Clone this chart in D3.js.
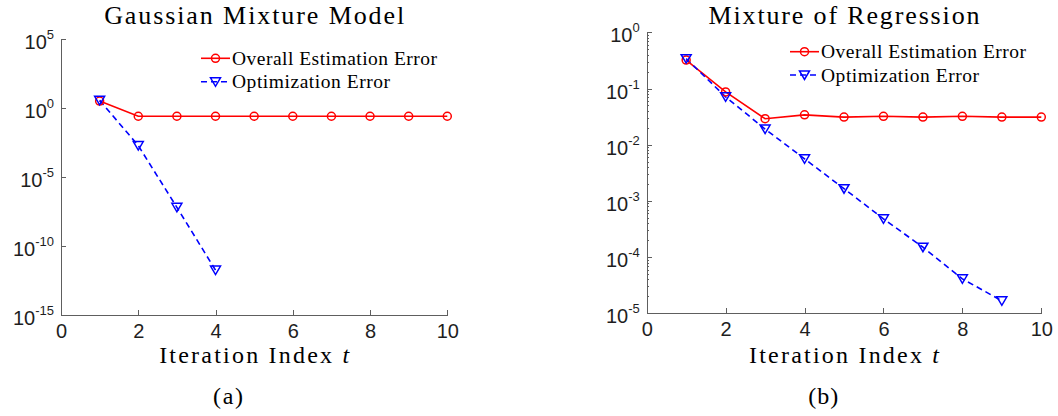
<!DOCTYPE html>
<html>
<head>
<meta charset="utf-8">
<script src="https://cdn.jsdelivr.net/npm/d3@7"></script>
<style>
    body { margin: 0; background: #fff; }
    .axis path, .axis line { stroke: #5e5e5e; stroke-width: 1; shape-rendering: crispEdges; }
    .axis text { fill: #1e1e1e; font-family: "Liberation Sans", Arial, sans-serif; }
    .serif { font-family: "Liberation Serif", "Times New Roman", serif; fill: #000; }
</style>
</head>
<body>
<div id="chart"></div>
<script>
// iteration index (shared)
let iterations = [1, 2, 3, 4, 5, 6, 7, 8, 9, 10];

// (a) gaussian mixture model
let gmmOverall = [3.0, 0.24, 0.24, 0.24, 0.24, 0.24, 0.24, 0.24, 0.24, 0.24];
let gmmOptIters = [1, 2, 3, 4];
let gmmOpt = [3.4, 1.8e-3, 6e-8, 1.7e-12];
let gmmYTicks = [1e5, 1e0, 1e-5, 1e-10, 1e-15];

// (b) mixture of regression
let mrOverall = [0.32, 0.087, 0.029, 0.034, 0.031, 0.032, 0.031, 0.032, 0.031, 0.031];
let mrOptIters = [1, 2, 3, 4, 5, 6, 7, 8, 9];
let mrOpt = [0.34, 0.071, 0.019, 0.0056, 0.00165, 4.8e-4, 1.5e-4, 4.1e-5, 1.67e-5];
let mrYTicks = [1e0, 1e-1, 1e-2, 1e-3, 1e-4, 1e-5];

let xTicks = [0, 2, 4, 6, 8, 10];
let legendLabels = ["Overall Estimation Error", "Optimization Error"];

const RED = "#ff0000", BLUE = "#0000ff";

let svg = d3.select("#chart").append("svg")
    .attr("width", 1058)
    .attr("height", 416);

function DrawCircle(g, x, y) {
    g.append("circle").attr("cx", x).attr("cy", y).attr("r", 4)
        .style("fill", "none").style("stroke", RED).style("stroke-width", 1.5);
}

function DrawTriangle(g, x, y) {
    g.append("path").attr("d", "M" + (x - 5) + "," + (y - 4) + "L" + (x + 5) + "," + (y - 4) + "L" + x + "," + (y + 4.5) + "Z")
        .style("fill", "none").style("stroke", BLUE).style("stroke-width", 1.5);
}

function SerifText(x, y, size, len, anchor) {
    return svg.append("text").attr("class", "serif")
        .attr("x", x).attr("y", y)
        .attr("text-anchor", anchor).style("font-size", size + "px")
        .attr("textLength", len).attr("lengthAdjust", "spacing");
}

function DrawPanel(p) {
    let x = d3.scaleLinear().domain([0, 10]).range([p.left, p.right]);
    let y = d3.scaleLog().domain(p.yDomain).range([p.bottom, p.top]);

    //x axis, ticks pointing in
    svg.append("g").attr("class", "axis")
        .attr("transform", "translate(0," + p.bottom + ")")
        .call(d3.axisBottom(x).tickValues(xTicks).tickSize(-5).tickSizeOuter(0).tickPadding(9).tickFormat(d3.format("d")))
        .selectAll("text").style("font-size", "20px");

    //minor log ticks
    if (p.minor) {
        let minors = [];
        let lo = Math.log10(p.yDomain[0]), hi = Math.log10(p.yDomain[1]);
        for (let e = lo; e < hi; ++e)
            for (let k = 2; k < 10; ++k) minors.push(k * Math.pow(10, e));
        svg.append("g").attr("class", "axis")
            .attr("transform", "translate(" + p.left + ",0)")
            .call(d3.axisLeft(y).tickValues(minors).tickSize(-2.5).tickSizeOuter(0).tickFormat(""))
            .select(".domain").remove();
    }

    //y axis with 10^n labels
    let yAxis = svg.append("g").attr("class", "axis")
        .attr("transform", "translate(" + p.left + ",0)")
        .call(d3.axisLeft(y).tickValues(p.yTicks).tickSize(-5).tickSizeOuter(0).tickPadding(7).tickFormat(""));
    yAxis.selectAll(".tick text").each(function (d) {
        let t = d3.select(this).attr("dy", null).attr("y", 9.5).attr("text-anchor", "end");
        t.append("tspan").style("font-size", "20px").text("10");
        t.append("tspan").style("font-size", "13px").attr("dy", -10).text(Math.round(Math.log10(d)));
    });

    //title
    SerifText((p.left + p.right) / 2, p.titleY, 26, p.titleLen, "middle").text(p.title);

    //x label
    let xl = SerifText((p.left + p.right) / 2, 363, 24, 190, "middle");
    xl.append("tspan").text("Iteration Index ");
    xl.append("tspan").style("font-style", "italic").text("t");

    //caption
    SerifText(p.captionX, 404, 24, 30, "middle").text(p.caption);

    //series
    let overall = p.overall.map((v, i) => [iterations[i], v]);
    let opt = p.opt.map((v, i) => [p.optIters[i], v]);
    let line = d3.line().x(d => x(d[0])).y(d => y(d[1]));

    svg.append("path").datum(overall).attr("d", line)
        .style("fill", "none").style("stroke", RED).style("stroke-width", 1.6);
    svg.append("path").datum(opt).attr("d", line)
        .style("fill", "none").style("stroke", BLUE).style("stroke-width", 1.6)
        .style("stroke-dasharray", "6,4");

    let mk = svg.append("g");
    overall.forEach(d => DrawCircle(mk, x(d[0]), y(d[1])));
    opt.forEach(d => DrawTriangle(mk, x(d[0]), y(d[1])));

    //legend
    let lg = svg.append("g");
    let rows = [p.legendY, p.legendY + p.legendGap];
    lg.append("line").attr("x1", p.legendX).attr("x2", p.legendX + 29).attr("y1", rows[0]).attr("y2", rows[0])
        .style("stroke", RED).style("stroke-width", 1.6);
    DrawCircle(lg, p.legendX + 14.5, rows[0]);
    lg.append("line").attr("x1", p.legendX).attr("x2", p.legendX + 29).attr("y1", rows[1]).attr("y2", rows[1])
        .style("stroke", BLUE).style("stroke-width", 1.6).style("stroke-dasharray", "6,4");
    DrawTriangle(lg, p.legendX + 14.5, rows[1]);
    let lens = [205, 158];
    for (let i = 0; i < legendLabels.length; ++i) {
        SerifText(p.legendX + 31, rows[i] + 6.5, 19.5, lens[i], "start").text(legendLabels[i]);
    }
}

DrawPanel({
    left: 61, right: 447.3, top: 38.7, bottom: 314.7,
    yDomain: [1e-15, 1e5], yTicks: gmmYTicks, minor: false,
    overall: gmmOverall, opt: gmmOpt, optIters: gmmOptIters,
    title: "Gaussian Mixture Model", titleY: 23.5, titleLen: 300,
    caption: "(a)", captionX: 228,
    legendX: 201, legendY: 58.3, legendGap: 23.5
});

DrawPanel({
    left: 646.7, right: 1041.3, top: 32.3, bottom: 313.3,
    yDomain: [1e-5, 1e0], yTicks: mrYTicks, minor: true,
    overall: mrOverall, opt: mrOpt, optIters: mrOptIters,
    title: "Mixture of Regression", titleY: 23.5, titleLen: 271,
    caption: "(b)", captionX: 823.3,
    legendX: 790, legendY: 51.7, legendGap: 23.3
});
</script>
</body>
</html>
